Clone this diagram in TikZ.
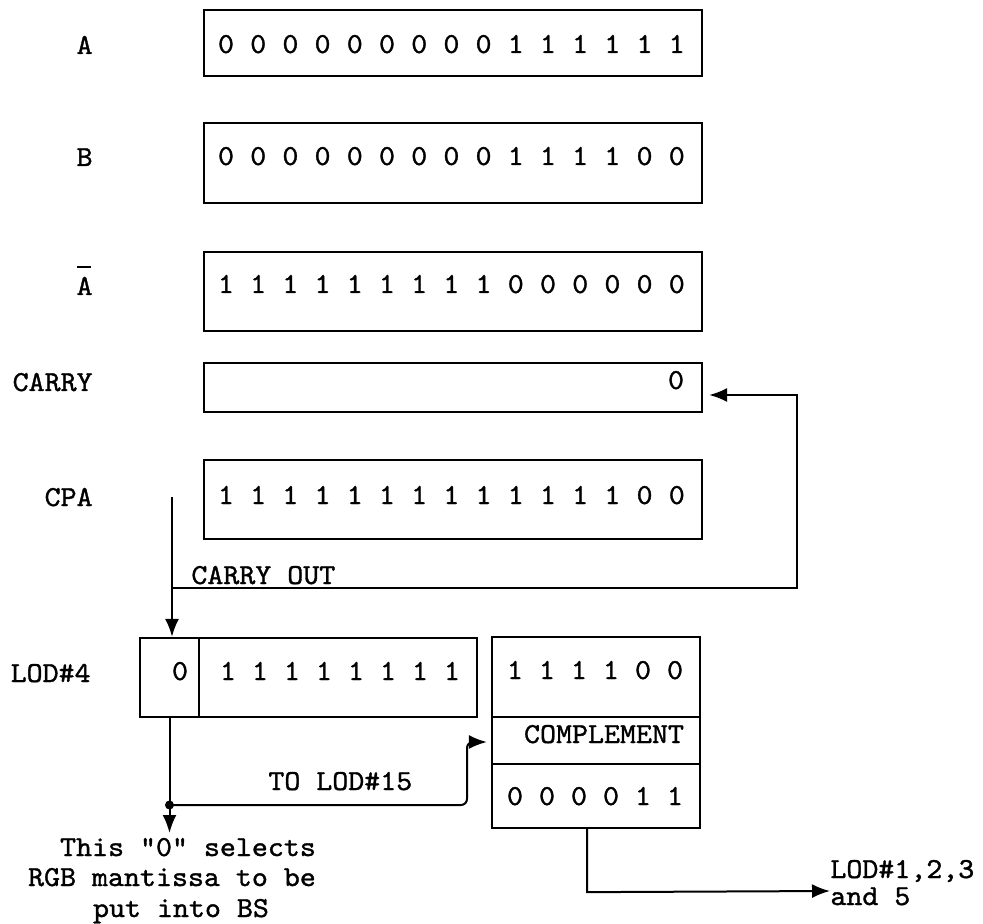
\documentclass[tikz,border=0pt]{standalone}
\usepackage{fontspec}
\newfontfamily\tw[FakeStretch=1.05,FakeBold=1.2]{lmmono10-regular.otf}
\usetikzlibrary{arrows.meta,fit}
\tikzset{
  reg/.style={draw,line width=1.15pt,inner sep=0pt},
  txt/.style={font=\tw\fontsize{14.5}{17}\selectfont,inner sep=0pt,anchor=base},
  lab/.style={txt,anchor=base east},
  labw/.style={txt,anchor=base west},
  wire/.style={line width=1pt},
  arr/.style={wire,-{Latex[length=9pt,width=7pt]}},
}
\begin{document}
\begin{tikzpicture}[x=0.5pt,y=-0.5pt]
\useasboundingbox (0,0) rectangle (983,924);

% registers
\node[reg,fit={(204,10) (702,76)}] (A) {};
\node[reg,fit={(204,123) (702,203)}] (B) {};
\node[reg,fit={(204,252) (702,331)}] (Abar) {};
\node[reg,fit={(204,363) (702,412)}] (carry) {};
\node[reg,fit={(204,460) (702,539)}] (cpa) {};
\node[reg,fit={(140,638) (199,717)}] (lod0) {};
\node[reg,fit={(199,638) (477,717)}] (lod1) {};
\node[reg,fit={(492,637) (700,717)}] (rb1) {};
\node[reg,fit={(492,717) (700,764)}] (rb2) {};
\node[reg,fit={(492,764) (700,828)}] (rb3) {};

% row labels
\node[lab] (lA) at (93,54) {A};
\node[lab] (lB) at (93,166) {B};
\node[lab] (lAbar) at (93,295) {A};
\draw[line width=1pt] (lAbar.north west) ++(1,-10) -- ++(14,0);
\node[lab] (lcarry) at (93,391) {CARRY};
\node[lab] (lcpa) at (93,506) {CPA};
\node[lab] (llod) at (91,682) {LOD\#4};

% bit strings
\foreach \b [count=\i] in {0,0,0,0,0,0,0,0,0,1,1,1,1,1,1}
  \node[txt] (a\i) at ({226+32.2*(\i-1)},53) {\b};
\foreach \b [count=\i] in {0,0,0,0,0,0,0,0,0,1,1,1,1,0,0}
  \node[txt] (b\i) at ({226+32.2*(\i-1)},165) {\b};
\foreach \b [count=\i] in {1,1,1,1,1,1,1,1,1,0,0,0,0,0,0}
  \node[txt] (n\i) at ({226+32.2*(\i-1)},293) {\b};
\node[txt] (c1) at (676,389) {0};
\foreach \b [count=\i] in {1,1,1,1,1,1,1,1,1,1,1,1,1,0,0}
  \node[txt] (p\i) at ({226+32.2*(\i-1)},504) {\b};
\node[txt] (l0) at (180,680) {0};
\foreach \b [count=\i] in {1,1,1,1,1,1,1,1}
  \node[txt] (l\i) at ({228+32*(\i-1)},680) {\b};
\foreach \b [count=\i] in {1,1,1,1,0,0}
  \node[txt] (r\i) at ({515+32*(\i-1)},679) {\b};
\node[txt] (compl) at (604,743) {COMPLEMENT};
\foreach \b [count=\i] in {0,0,0,0,1,1}
  \node[txt] (s\i) at ({515+32*(\i-1)},805) {\b};

% other texts
\node[labw] (cout) at (191,584) {CARRY OUT};
\node[labw] (tolod) at (268,790) {TO LOD\#15};
\node[txt] (t1) at (188,856) {This "0" selects};
\node[txt] (t2) at (172,886) {RGB mantissa to be};
\node[txt] (t3) at (181,917) {put into BS};
\node[labw] (o1) at (830,878) {LOD\#1,2,3};
\node[labw] (o2) at (830,905) {and 5};

% connectors
\coordinate (cpaL) at (172,497);
\coordinate (cj) at (172,588);
\coordinate (cr) at (797,588);
\draw[arr] (cpaL) -- (cpaL |- lod0.north);
\draw[arr,shorten >=3pt] (cj) -- (cr) -- (797,395) -- (carry.east |- 0,395);

\coordinate (dot) at (169.5,805);
\coordinate (dotEnd) at (169.5,833);
\draw[wire] (lod0.south) -- (dot);
\fill (dot) circle (4.5);
\draw[arr] (dot) -- (dotEnd);
\draw[arr,rounded corners=3pt,shorten >=2pt] (dot) -- (467,805) -- (467,742) -- (rb2.west |- 0,742);

\draw[arr] ([xshift=-4.5pt]rb3.south) -- ++(0,63) -- (o1.west |- 0,891);
\end{tikzpicture}
\end{document}
